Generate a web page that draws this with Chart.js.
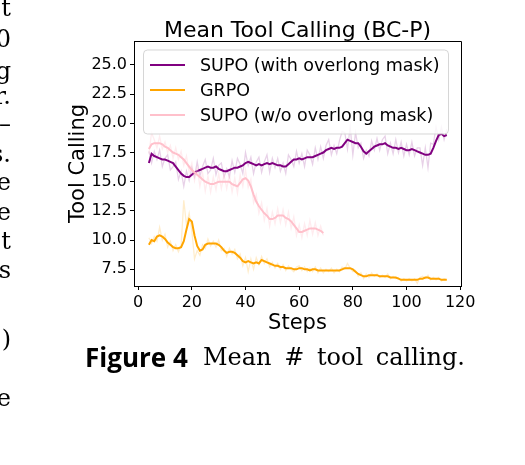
<!DOCTYPE html>
<html>
<head>
<meta charset="utf-8">
<script src="https://cdn.jsdelivr.net/npm/chart.js@4.4.0/dist/chart.umd.min.js"></script>
<style>
  html, body { margin: 0; padding: 0; background: #fff; }
  body { width: 525px; height: 465px; position: relative; overflow: hidden; }
  #chart { position: absolute; left: 0; top: 0; }
  .cap { position: absolute; white-space: nowrap; line-height: 1; color: #000; }
  #figno { left: 85px; top: 344px; font-family: "Open Sans", sans-serif; font-weight: 700; font-size: 26px; }
  #figtxt { left: 203px; top: 345px; font-family: "DejaVu Serif", serif; font-size: 24px; word-spacing: 5px; }
  .frag { position: absolute; right: 514px; font-family: "DejaVu Serif", serif; font-size: 24px; line-height: 1; white-space: nowrap; }
</style>
</head>
<body>
<canvas id="chart" width="525" height="345"></canvas>
<div id="figno" class="cap">Figure 4</div>
<div id="figtxt" class="cap">Mean # tool calling.</div>
<div id="frags"></div>
<script>
// training steps (x axis)
const steps = Array.from({length: 112}, (_, i) => i + 4);   // 4 .. 115
const pinkSteps = steps.slice(0, 66);                          // 4 .. 69

const xTicks = [0, 20, 40, 60, 80, 100, 120];
const yTicks = [7.5, 10, 12.5, 15, 17.5, 20, 22.5, 25];

// SUPO (with overlong mask)
const supoMaskRaw = [
  17.6, 16.6, 17.6, 16.9, 17.7, 16.3, 17.0, 17.3, 16.0, 16.3, 16.7, 15.2, 15.9, 14.6, 15.9, 15.1,
  16.2, 15.4, 16.7, 15.5, 16.3, 16.9, 15.7, 16.0, 17.0, 15.6, 16.4, 16.6, 15.4, 16.1, 15.4, 16.8,
  15.8, 17.0, 16.5, 15.7, 17.5, 16.4, 17.1, 15.7, 16.7, 17.1, 15.8, 16.7, 17.3, 15.8, 17.0, 16.2,
  17.0, 15.9, 16.6, 15.7, 17.3, 16.9, 16.3, 17.6, 16.6, 17.4, 16.3, 17.7, 17.3, 16.5, 17.9, 16.9,
  18.0, 17.0, 18.1, 18.6, 17.3, 18.1, 17.4, 18.5, 19.3, 19.2, 17.8, 19.7, 17.3, 19.2, 17.9, 18.3,
  17.0, 17.7, 17.2, 18.5, 17.7, 18.7, 17.7, 18.6, 18.9, 17.4, 18.3, 17.4, 18.6, 17.5, 18.4, 17.2,
  18.2, 17.3, 18.4, 17.2, 17.9, 17.9, 16.4, 17.9, 16.2, 18.3, 18.2, 19.7, 18.6, 19.7, 18.6, 19.5
];
const supoMaskSmooth = [
  16.6, 17.4, 17.2, 17.1, 17.0, 16.9, 16.9, 16.8, 16.7, 16.6, 16.3, 16.0, 15.7, 15.5, 15.4, 15.4,
  15.6, 15.8, 15.9, 16.0, 16.1, 16.2, 16.3, 16.2, 16.2, 16.3, 16.1, 16.0, 15.9, 15.9, 16.0, 16.1,
  16.2, 16.2, 16.3, 16.4, 16.6, 16.7, 16.6, 16.5, 16.4, 16.5, 16.4, 16.5, 16.6, 16.5, 16.6, 16.5,
  16.4, 16.4, 16.3, 16.3, 16.5, 16.7, 16.9, 16.9, 17.0, 16.9, 17.0, 17.1, 17.1, 17.1, 17.2, 17.3,
  17.4, 17.5, 17.7, 17.8, 17.9, 17.8, 17.9, 17.9, 18.0, 18.3, 18.6, 18.5, 18.4, 18.3, 18.3, 18.0,
  17.6, 17.4, 17.6, 17.8, 18.0, 18.1, 18.2, 18.2, 18.3, 18.1, 18.0, 17.9, 17.9, 17.8, 17.9, 17.8,
  17.7, 17.7, 17.8, 17.7, 17.6, 17.5, 17.4, 17.3, 17.3, 17.4, 17.9, 18.5, 19.0, 19.1, 18.9, 19.0
];

// GRPO
const grpoRaw = [
  10.2, 9.7, 10.3, 9.9, 11.1, 10.0, 10.5, 9.4, 9.9, 9.1, 9.6, 9.0, 9.5, 13.4, 11.3, 12.3,
  10.8, 8.4, 9.1, 8.7, 9.6, 9.3, 10.1, 9.5, 9.9, 9.4, 10.0, 9.1, 9.3, 8.6, 9.3, 8.8,
  9.2, 8.4, 8.8, 7.8, 8.5, 7.3, 8.4, 7.5, 8.5, 7.9, 8.6, 8.0, 8.4, 7.7, 8.1, 7.6,
  8.0, 7.5, 7.9, 7.4, 7.8, 7.5, 7.3, 7.7, 7.8, 7.4, 7.7, 7.3, 7.6, 7.3, 7.7, 7.2,
  7.6, 7.2, 7.5, 7.3, 7.6, 7.2, 7.5, 7.3, 7.7, 7.5, 8.0, 7.6, 7.3, 7.4, 6.9, 7.2,
  6.7, 7.1, 6.8, 7.2, 6.9, 7.1, 6.8, 7.0, 6.8, 7.1, 6.7, 6.9, 6.7, 6.8, 6.5, 6.7,
  6.5, 6.7, 6.5, 6.7, 6.3, 6.8, 6.9, 6.7, 7.0, 6.6, 6.8, 6.6, 6.8, 6.5, 6.7, 6.6
];
const grpoSmooth = [
  9.6, 10.0, 9.9, 10.3, 10.4, 10.3, 10.1, 9.8, 9.6, 9.4, 9.3, 9.3, 9.4, 9.9, 10.9, 11.8,
  11.6, 10.4, 9.5, 9.1, 9.2, 9.6, 9.7, 9.7, 9.7, 9.7, 9.6, 9.4, 9.1, 8.9, 9.0, 9.0,
  8.9, 8.7, 8.5, 8.2, 8.1, 8.2, 8.1, 8.0, 8.1, 8.0, 8.3, 8.2, 8.1, 8.0, 7.9, 7.8,
  7.8, 7.7, 7.7, 7.6, 7.6, 7.6, 7.5, 7.5, 7.6, 7.6, 7.5, 7.5, 7.4, 7.5, 7.5, 7.4,
  7.4, 7.4, 7.4, 7.4, 7.4, 7.4, 7.4, 7.4, 7.5, 7.6, 7.6, 7.6, 7.5, 7.3, 7.1, 7.0,
  6.9, 6.9, 7.0, 7.0, 7.0, 7.0, 6.9, 6.9, 6.9, 6.9, 6.8, 6.8, 6.8, 6.7, 6.6, 6.6,
  6.6, 6.6, 6.6, 6.6, 6.6, 6.7, 6.7, 6.8, 6.8, 6.7, 6.7, 6.7, 6.7, 6.6, 6.6, 6.6
];

// SUPO (w/o overlong mask), stops at step 69
const supoNoMaskRaw = [
  17.4, 19.2, 18.6, 17.9, 18.9, 17.8, 18.4, 17.5, 18.1, 17.0, 17.9, 16.9, 17.6, 16.4, 17.2, 15.8,
  16.6, 15.1, 16.2, 14.6, 15.8, 14.2, 15.5, 14.1, 15.4, 14.3, 15.7, 14.4, 15.6, 14.4, 15.6, 14.1,
  15.3, 14.0, 15.6, 14.6, 16.0, 14.5, 15.2, 13.2, 13.9, 12.3, 13.2, 11.7, 12.7, 11.2, 12.4, 11.4,
  12.7, 11.5, 12.6, 11.3, 12.4, 11.0, 12.0, 10.4, 11.3, 10.2, 11.4, 10.4, 11.7, 10.5, 11.5, 10.4,
  11.2, 10.4
];
const supoNoMaskSmooth = [
  17.8, 18.2, 18.3, 18.3, 18.3, 18.2, 18.0, 17.9, 17.7, 17.5, 17.4, 17.3, 17.1, 16.9, 16.6, 16.3,
  16.0, 15.8, 15.6, 15.4, 15.2, 15.0, 14.9, 14.8, 14.8, 14.9, 15.0, 15.0, 15.0, 15.0, 15.0, 14.8,
  14.7, 14.6, 14.9, 15.2, 15.3, 15.1, 14.6, 13.9, 13.3, 12.9, 12.6, 12.3, 12.1, 11.8, 11.8, 11.9,
  12.1, 12.1, 12.1, 11.9, 11.8, 11.6, 11.3, 11.0, 10.7, 10.7, 10.8, 10.9, 11.0, 11.0, 11.0, 10.9,
  10.8, 10.6
];

const legendItems = [
  { label: 'SUPO (with overlong mask)', color: 'purple' },
  { label: 'GRPO', color: 'orange' },
  { label: 'SUPO (w/o overlong mask)', color: 'pink' }
];

// clipped text of the neighbouring column, left page edge
const fragTexts = ['t', '0', 'g', 'r.', '–', 's.', 'e', 'e', 't', 's', ')', 'e'];
const fragTops = [-4, 27, 59, 84, 112, 142, 170, 200, 229, 258, 327, 386];

function pts(xs, ys) {
  return ys.map((v, i) => ({ x: xs[i], y: v }));
}

function lineSet(label, xs, ys, color, width) {
  return {
    label: label,
    data: pts(xs, ys),
    borderColor: color,
    borderWidth: width,
    pointRadius: 0,
    tension: 0,
    fill: false
  };
}

// first dataset is drawn on top in Chart.js
const datasets = [
  lineSet('SUPO (w/o overlong mask)', pinkSteps, supoNoMaskSmooth, 'pink', 2),
  lineSet('SUPO (w/o overlong mask) raw', pinkSteps, supoNoMaskRaw, 'rgba(255,192,203,0.3)', 1.3),
  lineSet('GRPO', steps, grpoSmooth, 'orange', 2),
  lineSet('GRPO raw', steps, grpoRaw, 'rgba(255,165,0,0.2)', 1.3),
  lineSet('SUPO (with overlong mask)', steps, supoMaskSmooth, 'purple', 2),
  lineSet('SUPO (with overlong mask) raw', steps, supoMaskRaw, 'rgba(128,0,128,0.18)', 1.3)
];

const decorPlugin = {
  id: 'decor',
  afterDatasetsDraw(chart) {
    const ctx = chart.ctx;
    const a = chart.chartArea;
    ctx.save();

    // legend box
    const bx = a.left + 9.5, by = a.top + 9, bw = 305, bh = 84, r = 4;
    ctx.beginPath();
    ctx.roundRect(bx, by, bw, bh, r);
    ctx.fillStyle = 'rgba(255,255,255,0.8)';
    ctx.fill();
    ctx.strokeStyle = 'rgba(204,204,204,0.8)';
    ctx.lineWidth = 1;
    ctx.stroke();

    ctx.font = '17.5px "DejaVu Sans"';
    ctx.textBaseline = 'middle';
    ctx.textAlign = 'left';
    legendItems.forEach((item, i) => {
      const y = a.top + 24 + i * 25;
      ctx.beginPath();
      ctx.moveTo(a.left + 16, y);
      ctx.lineTo(a.left + 51, y);
      ctx.strokeStyle = item.color;
      ctx.lineWidth = 2;
      ctx.stroke();
      ctx.fillStyle = '#000';
      ctx.fillText(item.label, a.left + 66, y + 1);
    });

    // top and right spines
    ctx.strokeStyle = '#000';
    ctx.lineWidth = 1;
    ctx.beginPath();
    ctx.moveTo(a.left, a.top + 0.5);
    ctx.lineTo(a.right + 0.5, a.top + 0.5);
    ctx.lineTo(a.right + 0.5, a.bottom);
    ctx.stroke();

    // title
    ctx.font = '22px "DejaVu Sans"';
    ctx.textAlign = 'center';
    ctx.textBaseline = 'alphabetic';
    ctx.fillStyle = '#000';
    ctx.fillText('Mean Tool Calling (BC-P)', (a.left + a.right) / 2, 37);
    ctx.restore();
  }
};

const tickFont = { family: 'DejaVu Sans', size: 16 };
const labelFont = { family: 'DejaVu Sans', size: 21 };

new Chart(document.getElementById('chart').getContext('2d'), {
  type: 'line',
  data: { datasets: datasets },
  options: {
    responsive: false,
    animation: false,
    events: [],
    layout: { padding: { top: 41, right: 64, left: 0, bottom: 0 } },
    plugins: { legend: { display: false }, tooltip: { enabled: false }, title: { display: false } },
    scales: {
      x: {
        type: 'linear',
        min: -1.55,
        max: 120.3,
        afterBuildTicks: s => { s.ticks = xTicks.map(v => ({ value: v })); },
        afterFit: s => { s.height = 59; },
        grid: { drawOnChartArea: false, drawTicks: true, tickLength: 4, tickColor: '#000' },
        border: { display: true, color: '#000', width: 1 },
        ticks: { color: '#000', font: tickFont, padding: 3, maxRotation: 0, autoSkip: false },
        title: { display: true, text: 'Steps', color: '#000', font: labelFont, padding: { top: 0, bottom: 9 } }
      },
      y: {
        type: 'linear',
        min: 6.07,
        max: 27.05,
        afterBuildTicks: s => { s.ticks = yTicks.map(v => ({ value: v })); },
        afterFit: s => { s.width = 134; },
        grid: { drawOnChartArea: false, drawTicks: true, tickLength: 4, tickColor: '#000' },
        border: { display: true, color: '#000', width: 1 },
        ticks: { color: '#000', font: tickFont, padding: 3, autoSkip: false, callback: v => v.toFixed(1) },
        title: { display: true, text: 'Tool Calling', color: '#000', font: labelFont, padding: { top: 66, bottom: 0 } }
      }
    }
  },
  plugins: [decorPlugin]
});

// left-edge fragments
const fragBox = document.getElementById('frags');
fragTexts.forEach((t, i) => {
  const d = document.createElement('div');
  d.className = 'frag';
  d.style.top = fragTops[i] + 'px';
  d.textContent = t;
  fragBox.appendChild(d);
});
</script>
</body>
</html>
